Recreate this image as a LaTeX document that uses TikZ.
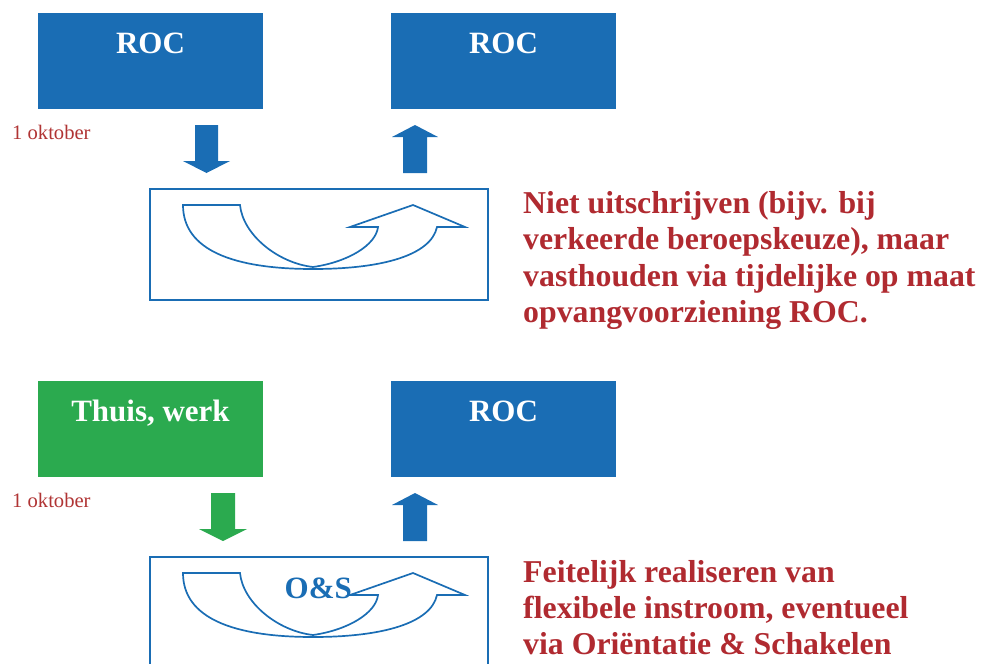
\documentclass[tikz,border=0pt]{standalone}
\usepackage{fontspec}
\setmainfont{Liberation Serif}
\definecolor{rocblue}{HTML}{1A6DB4}
\definecolor{homegreen}{HTML}{2BAA4F}
\definecolor{notered}{HTML}{B02A30}
\definecolor{datered}{HTML}{B03434}
\tikzset{
  solidbox/.style={draw=none, minimum width=225pt, minimum height=96pt, inner sep=0pt},
  bluebox/.style={solidbox, fill=rocblue},
  greenbox/.style={solidbox, fill=homegreen},
  boxtext/.style={anchor=base, text=white, inner sep=0pt, font=\fontsize{31}{36}\selectfont\bfseries},
  framebox/.style={draw=rocblue, line width=2pt, minimum width=338pt, minimum height=111pt, inner sep=0pt},
  datetext/.style={anchor=base west, text=datered, inner sep=0pt, font=\fontsize{20.6}{24}\selectfont},
  notetext/.style={anchor=base west, text=notered, inner sep=0pt, font=\fontsize{31.8}{36}\selectfont\bfseries},
  turnline/.style={draw=rocblue, line width=1.7pt, line join=miter},
  pics/uturn/.style={code={
    \draw[turnline] (0,0) -- (57,0)
      .. controls (60,30) and (95,58) .. (130,62)
      .. controls (165,57) and (193,40) .. (195,22)
      -- (167,22) -- (230,0) -- (282,22) -- (254,22)
      .. controls (248,50) and (200,64) .. (130,64)
      .. controls (50,64) and (0,45) .. cycle;
  }}
}
\begin{document}
\begin{tikzpicture}[x=1pt,y=-1pt]
\useasboundingbox (0,0) rectangle (983,664);
\clip (0,0) rectangle (983,664);

% ---------- top row ----------
\node[bluebox] (roca) at (150.5,61) {};
\node[boxtext] (rocat) at (150.5,53) {ROC};
\node[bluebox] (rocb) at (503.5,61) {};
\node[boxtext] (rocbt) at (503.5,53) {ROC};
\node[datetext] (datea) at (12,139) {1 oktober};

% block arrows top
\fill[rocblue] (195,125) -- (218,125) -- (218,161) -- (230,161) -- (206.5,173) -- (183,161) -- (195,161) -- cycle;
\fill[rocblue] (403,173) -- (427,173) -- (427,137) -- (438,137) -- (415,125) -- (392,137) -- (403,137) -- cycle;

\node[framebox] (framea) at (319,244.5) {};
\pic at (183,205) {uturn};

\node[notetext] (notea1) at (523,213) {Niet uitschrijven (bijv. bij};
\node[notetext] (notea2) at (523,249.5) {verkeerde beroepskeuze), maar};
\node[notetext] (notea3) at (523,286) {vasthouden via tijdelijke op maat};
\node[notetext] (notea4) at (523,322.5) {opvangvoorziening ROC.};

% ---------- bottom row ----------
\node[greenbox] (home) at (150.5,429) {};
\node[boxtext] (homet) at (150.5,421) {Thuis, werk};
\node[bluebox] (rocc) at (503.5,429) {};
\node[boxtext] (rocct) at (503.5,421) {ROC};
\node[datetext] (dateb) at (12,507) {1 oktober};

\fill[homegreen] (211,493) -- (235,493) -- (235,529) -- (247,529) -- (223,541) -- (199,529) -- (211,529) -- cycle;
\fill[rocblue] (403,541) -- (427,541) -- (427,505) -- (438,505) -- (415,493) -- (392,505) -- (403,505) -- cycle;

\node[framebox] (frameb) at (319,612.5) {};
\pic at (183,573) {uturn};
\node[anchor=base, text=rocblue, inner sep=0pt, font=\fontsize{31}{36}\selectfont\bfseries] (os) at (318.3,598) {O\&S};

\node[notetext] (noteb1) at (523,582) {Feitelijk realiseren van};
\node[notetext] (noteb2) at (523,618) {flexibele instroom, eventueel};
\node[notetext] (noteb3) at (523,654) {via Oriëntatie \& Schakelen};
\end{tikzpicture}
\end{document}
